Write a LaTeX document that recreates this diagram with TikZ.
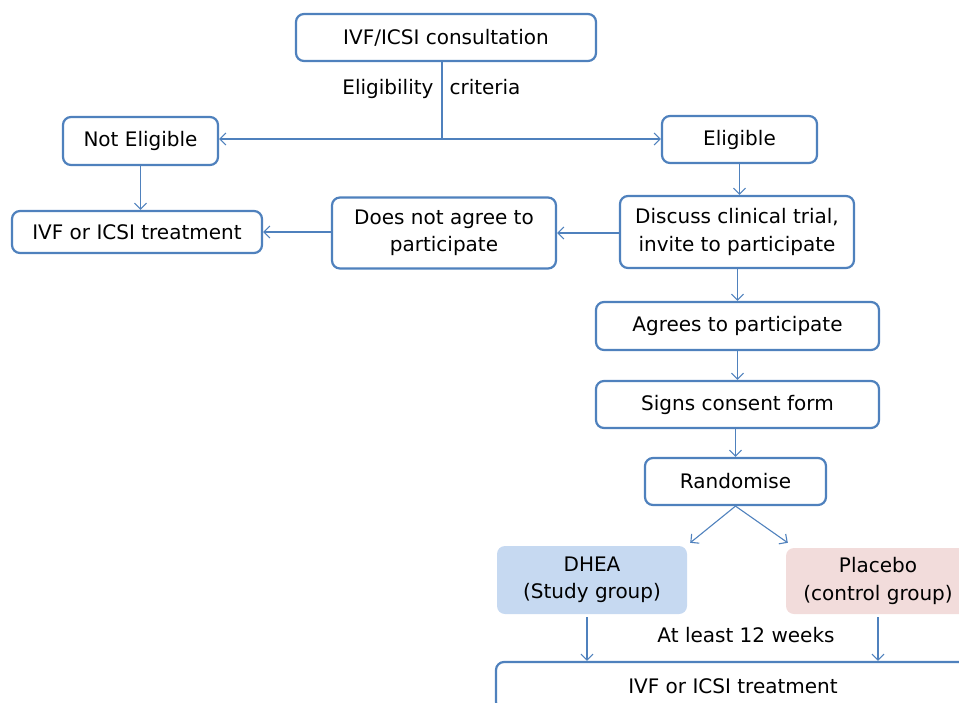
\documentclass[tikz,border=0pt]{standalone}
\usepackage{fontspec}
\setmainfont{DejaVu Sans}
\usetikzlibrary{arrows.meta,positioning}
\definecolor{boxblue}{HTML}{4F81BD}
\definecolor{studyblue}{HTML}{C6D9F1}
\definecolor{ctrlpink}{HTML}{F2DCDB}
\begin{document}
\begin{tikzpicture}[x=1pt,y=-1pt,font=\fontsize{20}{27.5}\selectfont,
  stepbox/.style={draw=boxblue,line width=2.2pt,rounded corners=8pt,fill=white,align=center,inner sep=0pt},
  groupbox/.style={rounded corners=8pt,align=center,inner sep=0pt},
  flow/.style={-{Straight Barb[length=6pt,width=12pt]},boxblue,line width=1.1pt}]
  \useasboundingbox (0,0) rectangle (959,702);
  \clip (0,0) rectangle (959,702);
  % top: consultation and eligibility split
  \node[stepbox,minimum width=300pt,minimum height=47pt] (consult) at (446,37.5) {IVF/ICSI consultation};
  \coordinate (split) at (442,139);
  \node[anchor=base east] (critL) at (437,94) {Eligibility};
  \node[anchor=base west] (critR) at (446,94) {criteria};
  \node[stepbox,minimum width=155pt,minimum height=48pt] (noteli) at (140.5,141) {Not Eligible};
  \node[stepbox,minimum width=155pt,minimum height=47pt] (eli) at (739.5,139.5) {Eligible};
  \node[stepbox,minimum width=250pt,minimum height=42pt] (ivfL) at (137,232) {IVF or ICSI treatment};
  \node[stepbox,minimum width=224pt,minimum height=71pt] (noagree) at (444,233) {Does not agree to\\participate};
  \node[stepbox,minimum width=234pt,minimum height=72pt] (discuss) at (737,232) {Discuss clinical trial,\\invite to participate};
  \node[stepbox,minimum width=283pt,minimum height=48pt] (agree) at (737.5,326) {Agrees to participate};
  \node[stepbox,minimum width=283pt,minimum height=47pt] (consent) at (737.5,404.5) {Signs consent form};
  \node[stepbox,minimum width=181pt,minimum height=47pt] (rand) at (735.5,481.5) {Randomise};
  % two arms
  \node[groupbox,fill=studyblue,minimum width=190pt,minimum height=68pt] (dhea) at (592,580) {DHEA\\(Study group)};
  \node[groupbox,fill=ctrlpink,minimum width=184pt,minimum height=66pt] (plac) at (878,581) {Placebo\\(control group)};
  \node (weeks) at (746,635) {At least 12 weeks};
  \node[stepbox,minimum width=474pt,minimum height=48pt] (ivfB) at (733,686) {IVF or ICSI treatment};
  % connectors
  \draw[boxblue,line width=1.1pt] (consult.south -| split) -- (split);
  \draw[flow] (split) -- (noteli.east |- split);
  \draw[flow] (split) -- (eli.west |- split);
  \draw[flow] (noteli) -- (ivfL.north -| noteli);
  \draw[flow] (noagree.west |- ivfL) -- (ivfL);
  \draw[flow] (discuss.west |- noagree) -- (noagree);
  \draw[flow] (eli) -- (discuss.north -| eli);
  \draw[flow] (discuss.south -| agree) -- (agree);
  \draw[flow] (agree) -- (consent);
  \draw[flow] (consent.south -| rand) -- (rand);
  \draw[flow] (rand.south) -- ([shift={(3pt,3pt)}]dhea.north east);
  \draw[flow] (rand.south) -- ([shift={(2pt,5pt)}]plac.north west);
  \draw[flow,shorten <=3pt] ([xshift=-5pt]dhea.south) -- ([xshift=-5pt]dhea.south |- ivfB.north);
  \draw[flow,shorten <=3pt] (plac.south) -- (plac.south |- ivfB.north);
\end{tikzpicture}
\end{document}
